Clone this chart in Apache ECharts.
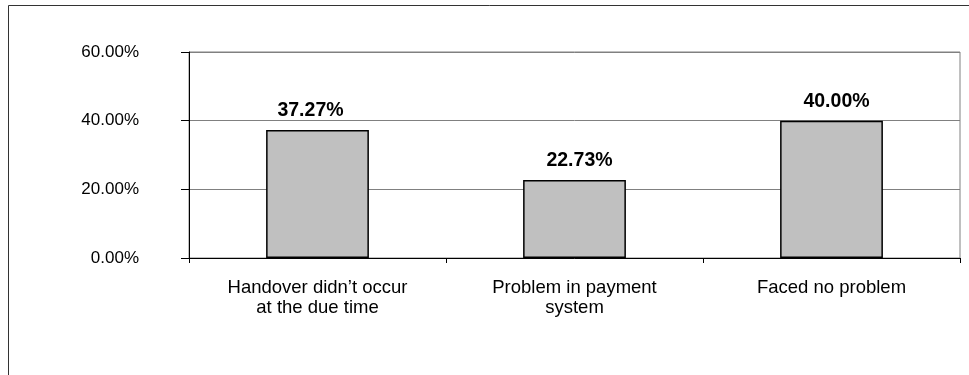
<!DOCTYPE html>
<html>
<head>
<meta charset="utf-8">
<style>
  html, body { margin: 0; padding: 0; background: #fff; }
  #chart { width: 969px; height: 375px; }
</style>
<script src="https://cdn.jsdelivr.net/npm/echarts@6/dist/echarts.min.js"></script>
</head>
<body>
<div id="chart"></div>
<script>
// Survey responses: problems faced during handover
const categories = [
  'Handover didn\u2019t occur\nat the due time',
  'Problem in payment\nsystem',
  'Faced no problem'
];
const shares = [0.3727, 0.2273, 0.40];
const axisMin = 0;
const axisMax = 0.6;
const axisStep = 0.2;

// horizontal nudges for the value labels (px)
const labelNudge = [-7, 5, 5];

const pct = v => (v * 100).toFixed(2) + '%';
const FONT = '"Liberation Sans", Arial, sans-serif';

const barData = shares.map((v, i) => ({
  value: v,
  label: { offset: [labelNudge[i], 0] }
}));

const chart = echarts.init(document.getElementById('chart'), null, { renderer: 'canvas' });
chart.setOption({
  animation: false,
  backgroundColor: '#ffffff',
  textStyle: { fontFamily: FONT },
  graphic: [{
    type: 'rect',
    shape: { x: 8.5, y: 5.5, width: 1000, height: 400 },
    style: { fill: 'none', stroke: '#333', lineWidth: 1 },
    silent: true
  }],
  grid: {
    left: 189, top: 52, right: 9, bottom: 117,
    show: true, borderColor: '#808080', borderWidth: 1, backgroundColor: 'transparent'
  },
  xAxis: {
    type: 'category',
    data: categories,
    axisLine: { show: true, lineStyle: { color: '#000', width: 1 } },
    axisTick: { show: true, alignWithLabel: false, length: 5, lineStyle: { color: '#000' } },
    axisLabel: {
      color: '#000', fontSize: 18.5, fontFamily: FONT, margin: 20,
      lineHeight: 20, align: 'center', interval: 0
    },
    splitLine: { show: false }
  },
  yAxis: {
    type: 'value',
    min: axisMin, max: axisMax, interval: axisStep,
    axisLine: { show: true, lineStyle: { color: '#000', width: 1 } },
    axisTick: { show: true, length: 8, lineStyle: { color: '#000' } },
    axisLabel: { color: '#000', fontSize: 17, fontFamily: FONT, margin: 50, formatter: pct },
    splitLine: { show: true, lineStyle: { color: '#808080', width: 1 } }
  },
  series: [{
    type: 'bar',
    data: barData,
    barWidth: '40%',
    itemStyle: { color: '#c0c0c0', borderColor: '#000', borderWidth: 1.5 },
    label: {
      show: true, position: 'top', distance: 9,
      color: '#000', fontSize: 19.5, fontWeight: 'bold', fontFamily: FONT,
      formatter: p => pct(p.value)
    }
  }]
});
</script>
</body>
</html>
